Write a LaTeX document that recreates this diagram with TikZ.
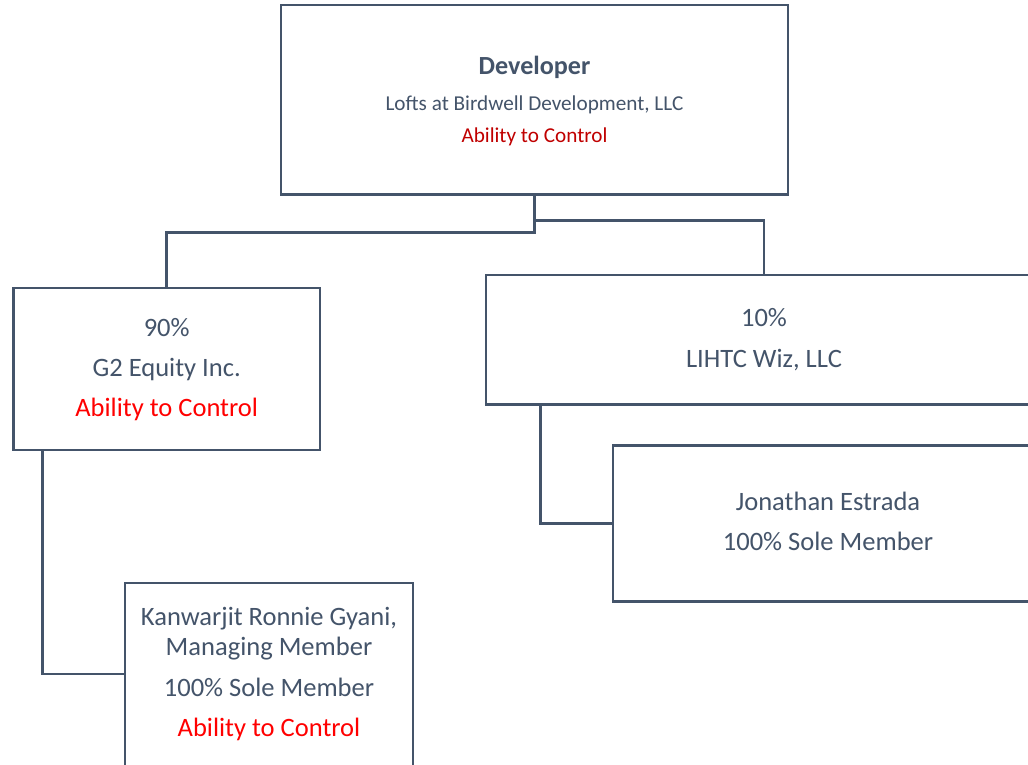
\documentclass[tikz,border=0pt]{standalone}
\usepackage{fontspec}
\setmainfont{Carlito}
\definecolor{slate}{HTML}{44546A}
\definecolor{ctrlred}{HTML}{FF0000}
\definecolor{ctrldark}{HTML}{C00000}
\begin{document}
\begin{tikzpicture}[x=0.75pt,y=-0.75pt,
  box/.style={draw=slate, line width=1.9pt, rectangle, inner sep=0pt, fill=white},
  link/.style={draw=slate, line width=1.9pt},
  txt/.style={anchor=base, inner sep=0pt, text=slate, font=\fontsize{19.9}{24}\selectfont},
  small/.style={txt, font=\fontsize{15.9}{19}\selectfont},
  head/.style={txt, font=\fontsize{19.6}{24}\selectfont\bfseries}]
\useasboundingbox (0,0) rectangle (1028,764);
\clip (0,0) rectangle (1028,764);

% ownership boxes
\node[box, minimum width=507*0.75pt, minimum height=189.5*0.75pt] (dev) at (534.5,99.75) {};
\node[box, minimum width=306.5*0.75pt, minimum height=162*0.75pt] (g2) at (166.75,369) {};
\node[box, minimum width=556*0.75pt, minimum height=129.5*0.75pt] (wiz) at (764,339.75) {};
\node[box, minimum width=430*0.75pt, minimum height=156*0.75pt] (jon) at (828,523.5) {};
\node[box, minimum width=288*0.75pt, minimum height=234*0.75pt] (kan) at (269,700) {};

% labels
\node[head] (devA) at (534.5,74) {Developer};
\node[small] (devB) at (534.5,110.5) {Lofts at Birdwell Development, LLC};
\node[small, text=ctrldark] (devC) at (534.5,142.2) {Ability to Control};

\node[txt] (g2A) at (166.7,336) {90\%};
\node[txt] (g2B) at (166.7,376.7) {G2 Equity Inc.};
\node[txt, text=ctrlred] (g2C) at (166.7,416.7) {Ability to Control};

\node[txt] (wizA) at (764,326.7) {10\%};
\node[txt] (wizB) at (764,367.3) {LIHTC Wiz, LLC};

\node[txt] (jonA) at (828,510) {Jonathan Estrada};
\node[txt] (jonB) at (828,550.7) {100\% Sole Member};

\node[txt] (kanA) at (269,625) {Kanwarjit Ronnie Gyani,};
\node[txt] (kanB) at (269,655) {Managing Member};
\node[txt] (kanC) at (269,696.7) {100\% Sole Member};
\node[txt, text=ctrlred] (kanD) at (269,736) {Ability to Control};

% connectors
\coordinate (kanjoin) at (0,674);
\draw[link] (dev.south) -- ++(0,36.5) -| (g2.north);
\draw[link] (dev.south) ++(0,24.5) -| (wiz.north);
\draw[link] (wiz.south west) ++(56,0) |- (jon.west);
\draw[link] (g2.south west) ++(30.5,0) |- (kan.west |- kanjoin);
\end{tikzpicture}
\end{document}
